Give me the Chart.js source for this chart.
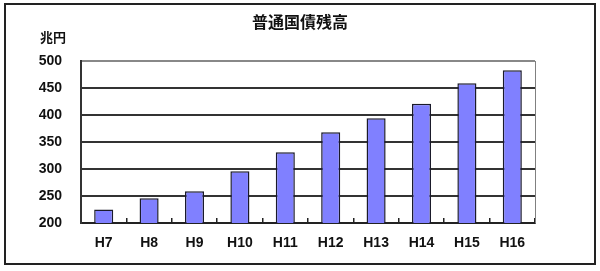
<!DOCTYPE html>
<html lang="ja">
<head>
    <meta charset="UTF-8">
    <title>普通国債残高</title>
    <script src="https://cdn.jsdelivr.net/npm/chart.js"></script>
    <style>
        html, body {
            margin: 0;
            padding: 0;
            background: #fff;
        }
        .wrap {
            position: relative;
            width: 600px;
            height: 271px;
        }
        .frame {
            position: absolute;
            left: 4px;
            top: 3px;
            width: 588px;
            height: 258px;
            border: 2px solid #222;
        }
        canvas {
            position: absolute;
            left: 0;
            top: 0;
        }
    </style>
</head>
<body>
<div class="wrap">
    <div class="frame"></div>
    <canvas id="debtChart" width="600" height="271"></canvas>
</div>

<script>
    const chartTitle = "普通国債残高";
    const unitLabel = "兆円";
    const years = ["H7", "H8", "H9", "H10", "H11", "H12", "H13", "H14", "H15", "H16"];
    const balance = [225, 246, 259, 296, 331, 368, 394, 421, 459, 483];
    const yTicks = [200, 250, 300, 350, 400, 450, 500];

    const numFont = { family: "'Liberation Sans', Arial, sans-serif", size: 14, weight: 'bold' };

    // title, unit label and the grey right edge of the plot
    const extras = {
        id: 'extras',
        afterDraw(chart) {
            const ctx = chart.ctx;
            const area = chart.chartArea;
            ctx.save();
            ctx.fillStyle = '#111';
            ctx.textBaseline = 'middle';
            ctx.textAlign = 'center';
            ctx.font = "bold 16px 'Noto Sans CJK JP', sans-serif";
            ctx.fillText(chartTitle, 300, 22);
            ctx.textAlign = 'left';
            ctx.font = "bold 13px 'Noto Sans CJK JP', sans-serif";
            ctx.fillText(unitLabel, 40, 37);
            ctx.strokeStyle = '#808080';
            ctx.lineWidth = 1;
            ctx.beginPath();
            ctx.moveTo(Math.round(area.right) + 0.5, area.top);
            ctx.lineTo(Math.round(area.right) + 0.5, area.bottom);
            ctx.stroke();
            ctx.restore();
        }
    };

    new Chart(document.getElementById('debtChart'), {
        type: 'bar',
        data: {
            labels: years,
            datasets: [{
                data: balance,
                backgroundColor: '#8080FF',
                borderColor: '#1a1a2a',
                borderWidth: 1.5,
                categoryPercentage: 1,
                barPercentage: 0.42
            }]
        },
        options: {
            responsive: false,
            animation: false,
            layout: { padding: { top: 61, right: 65, left: 0, bottom: 0 } },
            plugins: {
                legend: { display: false },
                title: { display: false },
                tooltip: { enabled: false }
            },
            scales: {
                x: {
                    afterFit: s => { s.height = 48; },
                    grid: {
                        offset: true,
                        drawOnChartArea: false,
                        tickLength: -5,
                        lineWidth: 1.5,
                        color: '#222'
                    },
                    border: { color: '#222', width: 2 },
                    ticks: { color: '#111', font: numFont, padding: 17 }
                },
                y: {
                    min: 200,
                    max: 500,
                    afterFit: s => { s.width = 81; },
                    afterBuildTicks: s => { s.ticks = yTicks.map(v => ({ value: v })); },
                    grid: {
                        drawTicks: false,
                        lineWidth: 2,
                        color: ctx => ctx.tick && ctx.tick.value === 500 ? '#888' : '#333'
                    },
                    border: { color: '#333', width: 2 },
                    ticks: { color: '#111', font: numFont, padding: 19 }
                }
            }
        },
        plugins: [extras]
    });
</script>
</body>
</html>
